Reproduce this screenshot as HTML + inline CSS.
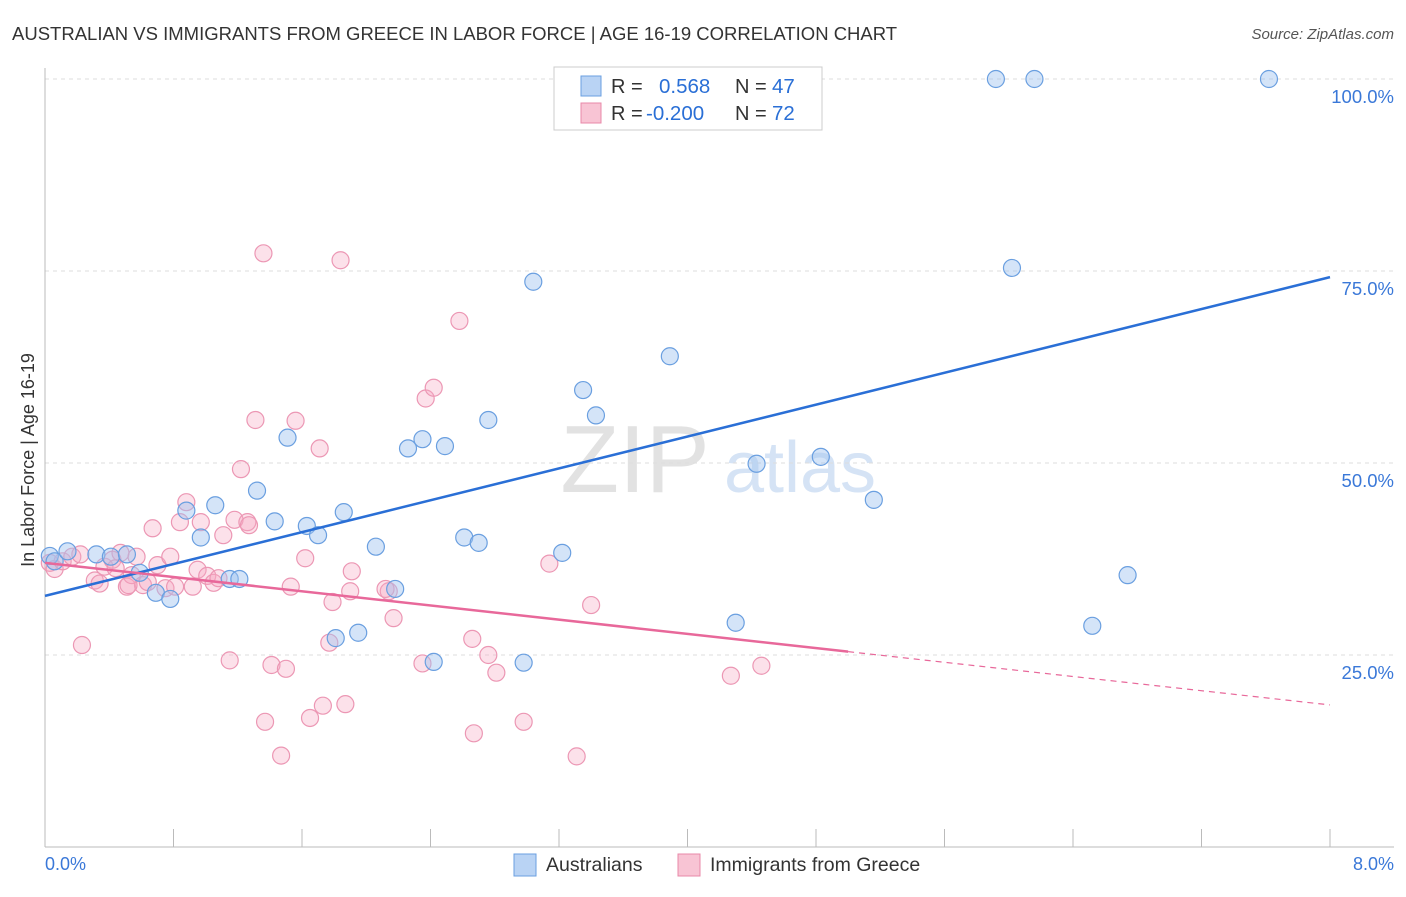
<!DOCTYPE html>
<html><head><meta charset="utf-8"><style>
body{margin:0;background:#fff;font-family:"Liberation Sans",sans-serif;}
svg text{font-family:"Liberation Sans",sans-serif;}
</style></head><body>
<svg id="chart" width="1406" height="892">
<text x="12" y="40" font-size="18.5" fill="#333">AUSTRALIAN VS IMMIGRANTS FROM GREECE IN LABOR FORCE | AGE 16-19 CORRELATION CHART</text>
<text x="1394" y="39" font-size="15" fill="#555" font-style="italic" text-anchor="end">Source: ZipAtlas.com</text>
<text x="635" y="492" font-size="96" fill="#e2e2e2" font-family="Liberation Serif" text-anchor="middle">ZIP</text>
<text x="800" y="492" font-size="72" fill="#d5e3f5" text-anchor="middle">atlas</text>
<g id="grid"></g><g id="axes"></g><g id="pts"></g><g id="lines"></g>
<text x="34" y="460" font-size="18" fill="#333" text-anchor="middle" transform="rotate(-90 34 460)">In Labor Force | Age 16-19</text>
<text x="45" y="870" font-size="18" fill="#3a78d8">0.0%</text>
<text x="1394" y="870" font-size="18" fill="#3a78d8" text-anchor="end">8.0%</text>
<g>
<rect x="554" y="67" width="268" height="63" fill="#fff" stroke="#ccc"/>
<rect x="581" y="76" width="20" height="20" fill="#b9d3f4" stroke="#6a9fe0"/>
<rect x="581" y="103" width="20" height="20" fill="#f8c4d4" stroke="#e888a8"/>
<text x="611" y="93" font-size="20" fill="#333">R = </text><text x="659" y="93" font-size="20.5" fill="#2a6fd6">0.568</text>
<text x="735" y="93" font-size="20" fill="#333">N = </text><text x="772" y="93" font-size="20.5" fill="#2a6fd6">47</text>
<text x="611" y="120" font-size="20" fill="#333">R = </text><text x="646" y="120" font-size="20.5" fill="#2a6fd6">-0.200</text>
<text x="735" y="120" font-size="20" fill="#333">N = </text><text x="772" y="120" font-size="20.5" fill="#2a6fd6">72</text>
</g>
<g>
<rect x="514" y="854" width="22" height="22" fill="#b9d3f4" stroke="#6a9fe0"/>
<text x="546" y="871" font-size="19.5" fill="#333">Australians</text>
<rect x="678" y="854" width="22" height="22" fill="#f8c4d4" stroke="#e888a8"/>
<text x="710" y="871" font-size="19.5" fill="#333">Immigrants from Greece</text>
</g>
</svg>
<script>
const yTicks=[25,50,75,100];
const yTickLabels=["25.0%","50.0%","75.0%","100.0%"];
const xTicks=[0,0.8,1.6,2.4,3.2,4.0,4.8,5.6,6.4,7.2,8.0];
const blueX=[0.03,0.06,0.14,0.32,0.41,0.51,0.59,0.69,0.78,0.88,0.97,1.06,1.15,1.21,1.32,1.43,1.51,1.63,1.70,1.81,1.86,1.95,2.06,2.18,2.26,2.35,2.42,2.49,2.61,2.70,2.76,2.98,3.04,3.22,3.35,3.43,3.89,4.30,4.43,4.83,5.16,5.92,6.02,6.16,6.52,6.74,7.62];
const blueY=[37.9,37.2,38.5,38.1,37.8,38.1,35.7,33.1,32.3,43.8,40.3,44.5,34.9,34.9,46.4,42.4,53.3,41.8,40.6,27.2,43.6,27.9,39.1,33.6,51.9,53.1,24.1,52.2,40.3,39.6,55.6,24.0,73.6,38.3,59.5,56.2,63.9,29.2,49.9,50.8,45.2,100,75.4,100,28.8,35.4,100];
const pinkX=[0.03,0.06,0.11,0.17,0.22,0.23,0.31,0.34,0.37,0.42,0.47,0.51,0.54,0.57,0.61,0.64,0.67,0.70,0.75,0.78,0.81,0.84,0.88,0.92,0.95,0.97,1.01,1.05,1.08,1.11,1.15,1.18,1.22,1.26,1.27,1.31,1.36,1.37,1.41,1.47,1.50,1.53,1.56,1.62,1.65,1.71,1.73,1.77,1.79,1.84,1.87,1.91,1.90,2.14,2.17,2.35,2.37,2.42,2.58,2.66,2.67,2.76,2.81,2.98,3.14,3.31,3.40,4.27,4.46,2.12,0.52,0.44];
const pinkY=[37.0,36.2,37.2,37.8,38.1,26.3,34.7,34.3,36.5,37.4,38.3,33.9,35.4,37.8,34.1,34.5,41.5,36.7,33.7,37.8,33.9,42.3,44.9,33.9,36.1,42.3,35.3,34.4,35.0,40.6,24.3,42.6,49.2,42.3,41.9,55.6,77.3,16.3,23.7,11.9,23.2,33.9,55.5,37.6,16.8,51.9,18.4,26.6,31.9,76.4,18.6,35.9,33.3,33.3,29.8,23.9,58.4,59.8,68.5,27.1,14.8,25.0,22.7,16.3,36.9,11.8,31.5,22.3,23.6,33.6,34.1,36.3];
const blueFit=[32.7,74.2];
const pinkFit=[37.0,18.5];
const pinkSolidEnd=5.0;
const X0=45,X1=1330,Y0=847,PY=7.68;
const sx=v=>X0+v/8*(X1-X0), sy=v=>Y0-v*PY;
const NS="http://www.w3.org/2000/svg";
function mk(tag,attrs,parent){const e=document.createElementNS(NS,tag);for(const k in attrs)e.setAttribute(k,attrs[k]);document.getElementById(parent).appendChild(e);return e;}
yTicks.forEach((t,i)=>{
  const l=mk('line',{x1:X0,x2:1394,y1:sy(t),y2:sy(t),stroke:'#ddd','stroke-dasharray':'4,4'},'grid');
  
  
  const tx=mk('text',{x:1394,y:sy(t)+24,'font-size':18.5,fill:'#3a78d8','text-anchor':'end'},'grid');
  tx.textContent=yTickLabels[i];
  
  
});
const xa=mk('line',{x1:X0,x2:1394,y1:Y0,y2:Y0,stroke:'#bbb'},'axes');


const ya=mk('line',{x1:X0,x2:X0,y1:68,y2:Y0,stroke:'#bbb'},'axes');


xTicks.forEach(t=>{
  const l=mk('line',{x1:sx(t),x2:sx(t),y1:Y0,y2:Y0-18,stroke:'#bbb'},'axes');
  
  
});
pinkX.forEach((x,i)=>{
  const c=mk('circle',{cx:sx(x),cy:sy(pinkY[i]),r:8.5,fill:'rgba(245,170,195,0.35)',stroke:'#ec97b4','stroke-width':1.2},'pts');
  
  
});
blueX.forEach((x,i)=>{
  const c=mk('circle',{cx:sx(x),cy:sy(blueY[i]),r:8.5,fill:'rgba(160,195,240,0.45)',stroke:'#6a9fe0','stroke-width':1.2},'pts');
  
  
});
const bl=mk('line',{x1:sx(0),y1:sy(blueFit[0]),x2:sx(8),y2:sy(blueFit[1]),stroke:'#2a6fd6','stroke-width':2.5},'lines');


const pm=pinkFit[0]+(pinkFit[1]-pinkFit[0])*pinkSolidEnd/8;
const pl=mk('line',{x1:sx(0),y1:sy(pinkFit[0]),x2:sx(pinkSolidEnd),y2:sy(pm),stroke:'#e8689a','stroke-width':2.5},'lines');


const pd=mk('line',{x1:sx(pinkSolidEnd),y1:sy(pm),x2:sx(8),y2:sy(pinkFit[1]),stroke:'#e8689a','stroke-width':1.2,'stroke-dasharray':'6,5'},'lines');


</script>
</body></html>
